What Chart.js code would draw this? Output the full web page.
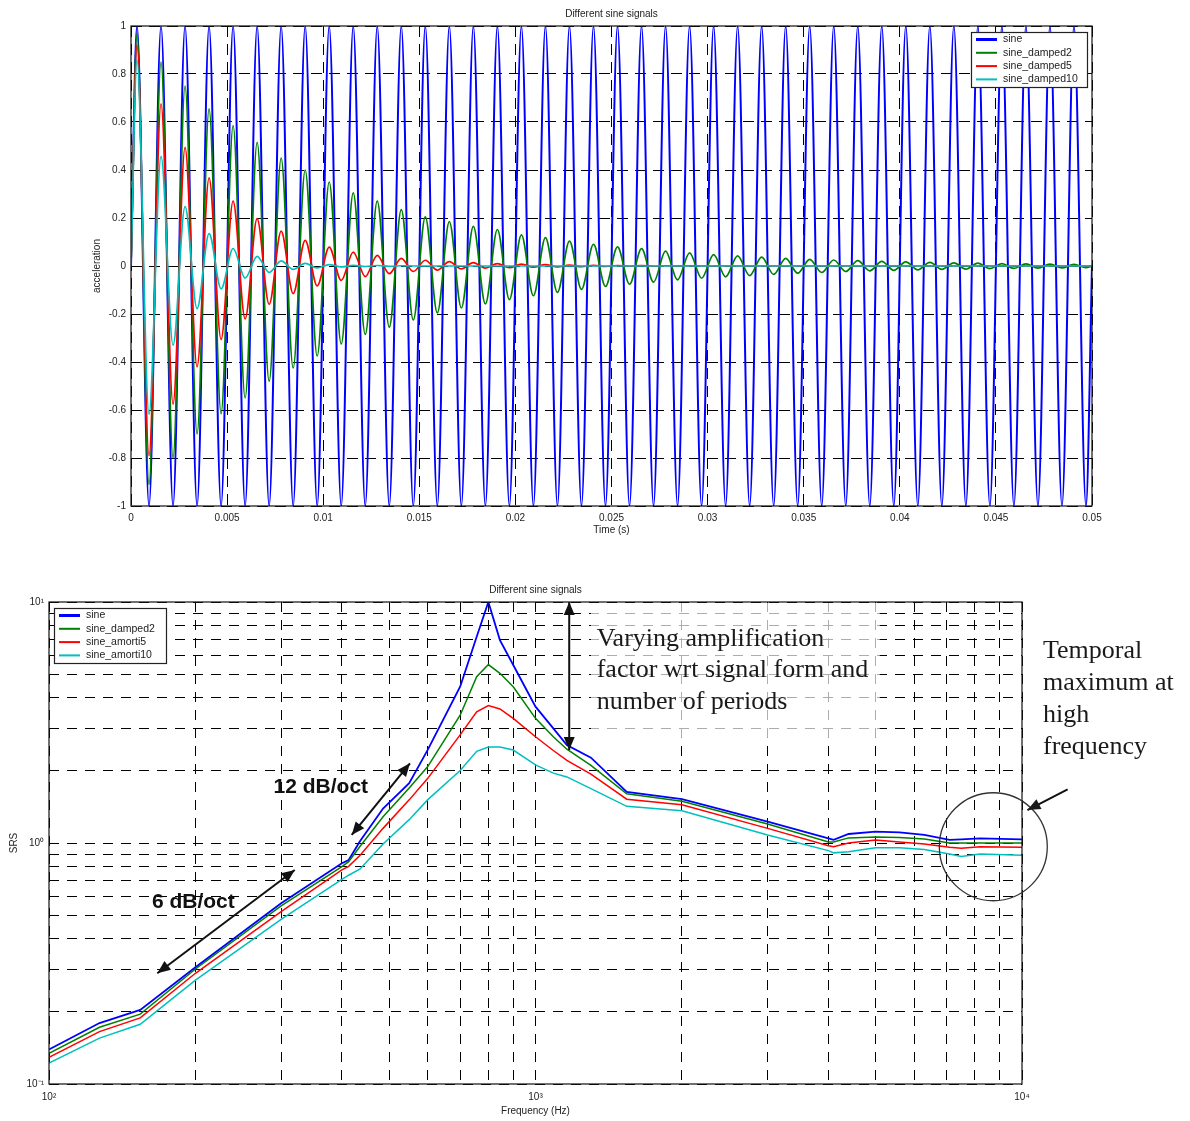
<!DOCTYPE html>
<html>
<head>
<meta charset="utf-8">
<title>Different sine signals</title>
<script src="https://cdn.jsdelivr.net/npm/chart.js@4.4.1/dist/chart.umd.min.js"></script>
<style>
  html, body { margin: 0; padding: 0; background: #fff; }
  body { width: 1190px; height: 1121px; position: relative; overflow: hidden; }
  canvas { position: absolute; left: 0; }
  #chart-time { top: 0; }
  #chart-srs  { top: 560px; }
</style>
</head>
<body>
<canvas id="chart-time" width="1190" height="545"></canvas>
<canvas id="chart-srs" width="1190" height="561"></canvas>
<script>
/* ════════════════════════════════════════════════════════════════════
   Time signals — extrema (800 Hz, 40 periods)
════════════════════════════════════════════════════════════════════ */
const SINE_PERIOD = 0.00125;   // s, spacing of the blue peaks
const timeLabels = ['sine', 'sine_damped2', 'sine_damped5', 'sine_damped10'];

const sinePeaks = [
  1, 1, 1, 1, 1, 1, 1, 1, 1, 1,
  1, 1, 1, 1, 1, 1, 1, 1, 1, 1,
  1, 1, 1, 1, 1, 1, 1, 1, 1, 1,
  1, 1, 1, 1, 1, 1, 1, 1, 1, 1];
const sineTroughs = [
  -1, -1, -1, -1, -1, -1, -1, -1, -1, -1,
  -1, -1, -1, -1, -1, -1, -1, -1, -1, -1,
  -1, -1, -1, -1, -1, -1, -1, -1, -1, -1,
  -1, -1, -1, -1, -1, -1, -1, -1, -1, -1];

const damped2Peaks = [
  0.97, 0.85, 0.75, 0.655, 0.585, 0.515, 0.45, 0.40, 0.35, 0.305,
  0.27, 0.235, 0.205, 0.185, 0.165, 0.152, 0.13, 0.118, 0.104, 0.09,
  0.08, 0.072, 0.062, 0.055, 0.047, 0.042, 0.037, 0.032, 0.028, 0.025,
  0.022, 0.019, 0.017, 0.015, 0.013, 0.012, 0.010, 0.009, 0.008, 0.007];
const damped2Troughs = [
  -0.91, -0.80, -0.70, -0.615, -0.55, -0.48, -0.425, -0.375, -0.325, -0.285,
  -0.255, -0.225, -0.195, -0.175, -0.158, -0.14, -0.124, -0.11, -0.097, -0.085,
  -0.076, -0.067, -0.058, -0.051, -0.045, -0.04, -0.035, -0.03, -0.027, -0.023,
  -0.02, -0.018, -0.016, -0.014, -0.013, -0.011, -0.01, -0.009, -0.008, -0.007];

const damped5Peaks = [
  0.92, 0.676, 0.494, 0.367, 0.27, 0.197, 0.145, 0.107, 0.079, 0.058,
  0.044, 0.032, 0.024, 0.018, 0.014, 0.01, 0.008, 0.006, 0.004, 0.003,
  0.002, 0.002, 0.001, 0.001, 0, 0, 0, 0, 0, 0,
  0, 0, 0, 0, 0, 0, 0, 0, 0, 0];
const damped5Troughs = [
  -0.79, -0.576, -0.42, -0.306, -0.22, -0.16, -0.115, -0.083, -0.06, -0.044,
  -0.032, -0.023, -0.017, -0.012, -0.009, -0.007, -0.005, -0.004, -0.003, -0.002,
  -0.001, -0.001, 0, 0, 0, 0, 0, 0, 0, 0,
  0, 0, 0, 0, 0, 0, 0, 0, 0, 0];

const damped10Peaks = [
  0.86, 0.457, 0.247, 0.135, 0.073, 0.04, 0.021, 0.011, 0.006, 0.003,
  0.002, 0.001, 0, 0, 0, 0, 0, 0, 0, 0,
  0, 0, 0, 0, 0, 0, 0, 0, 0, 0,
  0, 0, 0, 0, 0, 0, 0, 0, 0, 0];
const damped10Troughs = [
  -0.618, -0.33, -0.178, -0.095, -0.05, -0.027, -0.014, -0.008, -0.004, -0.002,
  -0.001, 0, 0, 0, 0, 0, 0, 0, 0, 0,
  0, 0, 0, 0, 0, 0, 0, 0, 0, 0,
  0, 0, 0, 0, 0, 0, 0, 0, 0, 0];

/* ════════════════════════════════════════════════════════════════════
════════════════════════════════════════════════════════════════════ */
const srsLabels = ['sine', 'sine_damped2', 'sine_amorti5', 'sine_amorti10'];
const srsFreq = [100, 127, 154, 200, 300, 400, 413, 436, 486, 550, 600, 700, 757, 800, 845, 900,
                 1000, 1088, 1160, 1300, 1540, 2000, 3000, 4000, 4100, 4400, 5000, 5600, 6300,
                 7100, 7500, 8200, 10000];
const srsSine = [0.139, 0.179, 0.203, 0.305, 0.562, 0.824, 0.85, 1.02, 1.39, 1.77, 2.43, 4.45, 7.18, 10.0,
                 6.95, 5.48, 3.68, 2.99, 2.55, 2.26, 1.63, 1.52, 1.226, 1.046, 1.03, 1.09, 1.114, 1.107,
                 1.08, 1.03, 1.035, 1.045, 1.035];
const srsDamped2 = [0.134, 0.172, 0.195, 0.30, 0.548, 0.798, 0.837, 0.97, 1.285, 1.69, 2.07, 3.39, 4.9, 5.5,
                    5.06, 4.45, 3.29, 2.76, 2.45, 2.1, 1.6, 1.49, 1.2, 1.01, 1.01, 1.05, 1.06, 1.055,
                    1.04, 1.0, 1.0, 1.0, 1.0];
const srsAmorti5 = [0.129, 0.165, 0.188, 0.288, 0.519, 0.773, 0.80, 0.89, 1.15, 1.51, 1.85, 2.81, 3.5, 3.72,
                    3.6, 3.29, 2.76, 2.42, 2.2, 1.93, 1.52, 1.44, 1.15, 0.975, 0.965, 1.0, 1.03, 1.01,
                    0.99, 0.96, 0.95, 0.965, 0.96];
const srsAmorti10 = [0.122, 0.155, 0.177, 0.27, 0.482, 0.707, 0.735, 0.78, 0.99, 1.25, 1.51, 2.0, 2.4, 2.5,
                     2.5, 2.43, 2.11, 1.95, 1.88, 1.68, 1.42, 1.36, 1.08, 0.93, 0.91, 0.92, 0.955, 0.955,
                     0.94, 0.90, 0.88, 0.90, 0.89];

const srsFreqTicks = [100, 200, 300, 400, 500, 600, 700, 800, 900,
                      1000, 2000, 3000, 4000, 5000, 6000, 7000, 8000, 9000, 10000];
const srsValueTicks = [0.1, 0.2, 0.3, 0.4, 0.5, 0.6, 0.7, 0.8, 0.9,
                       1, 2, 3, 4, 5, 6, 7, 8, 9, 10];
const srsFreqDecades = { 100: '10²', 1000: '10³', 10000: '10⁴' };
const srsValueDecades = { 0.1: '10⁻¹', 1: '10⁰', 10: '10¹' };

/* ── palette (Matlab line colours) ── */
const COLORS = ['#0000ff', '#008000', '#ff0000', '#00bfbf'];
const SANS = '"Liberation Sans", Arial, sans-serif';
const SERIF = '"Liberation Serif", "Times New Roman", serif';

// join peaks and troughs into one curve, extrema at quarter periods
function toWave(peaks, troughs) {
  const pts = [{ x: 0, y: 0 }];
  peaks.forEach((p, i) => {
    pts.push({ x: (i + 0.25) * SINE_PERIOD, y: p });
    pts.push({ x: (i + 0.75) * SINE_PERIOD, y: troughs[i] });
  });
  pts.push({ x: peaks.length * SINE_PERIOD, y: 0 });
  return pts;
}

function drawLegend(ctx, x, y, w, h, labels, widths) {
  ctx.save();
  ctx.fillStyle = '#fff';
  ctx.fillRect(x, y, w, h);
  ctx.strokeStyle = '#222';
  ctx.lineWidth = 1.2;
  ctx.strokeRect(x + 0.5, y + 0.5, w, h);
  ctx.font = `10.5px ${SANS}`;
  ctx.textBaseline = 'middle';
  labels.forEach((lbl, i) => {
    const cy = y + 7.5 + i * 13.3;
    ctx.strokeStyle = COLORS[i];
    ctx.lineWidth = widths[i];
    ctx.beginPath();
    ctx.moveTo(x + 5, cy);
    ctx.lineTo(x + 26, cy);
    ctx.stroke();
    ctx.fillStyle = '#222';
    ctx.fillText(lbl, x + 32, cy);
  });
  ctx.restore();
}

function drawFrame(ctx, ca) {
  ctx.save();
  ctx.strokeStyle = '#111';
  ctx.lineWidth = 1.2;
  ctx.strokeRect(ca.left, ca.top, ca.right - ca.left, ca.bottom - ca.top);
  ctx.restore();
}

function axisTexts(ctx, ca, title, xTitle, yTitle, xOff, yOff) {
  ctx.save();
  ctx.fillStyle = '#222';
  ctx.font = `10px ${SANS}`;
  ctx.textAlign = 'center';
  ctx.textBaseline = 'middle';
  const cx = (ca.left + ca.right) / 2;
  ctx.fillText(title, cx, ca.top - 12);
  ctx.fillText(xTitle, cx, ca.bottom + xOff);
  ctx.translate(ca.left - yOff, (ca.top + ca.bottom) / 2);
  ctx.rotate(-Math.PI / 2);
  ctx.fillText(yTitle, 0, 0);
  ctx.restore();
}

function arrow(ctx, x1, y1, x2, y2, both) {
  const head = (xa, ya, xb, yb) => {
    const a = Math.atan2(yb - ya, xb - xa);
    const len = 13, half = 5.5;
    ctx.beginPath();
    ctx.moveTo(xb, yb);
    ctx.lineTo(xb - len * Math.cos(a) + half * Math.sin(a), yb - len * Math.sin(a) - half * Math.cos(a));
    ctx.lineTo(xb - len * Math.cos(a) - half * Math.sin(a), yb - len * Math.sin(a) + half * Math.cos(a));
    ctx.closePath();
    ctx.fill();
  };
  ctx.beginPath();
  ctx.moveTo(x1, y1);
  ctx.lineTo(x2, y2);
  ctx.stroke();
  head(x1, y1, x2, y2);
  if (both) head(x2, y2, x1, y1);
}

/* ═══════════════════════════════════════
   1. TIME SIGNALS
═══════════════════════════════════════ */
const timeFrame = {
  id: 'timeFrame',
  afterDatasetsDraw(chart) {
    const { ctx, chartArea: ca } = chart;
    drawFrame(ctx, ca);
    axisTexts(ctx, ca, 'Different sine signals', 'Time (s)', 'acceleration', 24, 34);
    drawLegend(ctx, ca.right - 121, ca.top + 6, 116, 55, timeLabels, [3, 2, 2, 2]);
  }
};

const peakSets = [
  [sinePeaks, sineTroughs], [damped2Peaks, damped2Troughs],
  [damped5Peaks, damped5Troughs], [damped10Peaks, damped10Troughs]
];

new Chart(document.getElementById('chart-time'), {
  type: 'line',
  data: {
    datasets: peakSets.map(([p, t], i) => ({
      label: timeLabels[i],
      data: toWave(p, t),
      borderColor: COLORS[i],
      borderWidth: i === 0 ? 2 : 1.7,
      pointRadius: 0,
      fill: false,
      cubicInterpolationMode: 'monotone',
      order: 4 - i,
    }))
  },
  options: {
    responsive: false, animation: false, devicePixelRatio: 1,
    layout: { padding: { left: 88, right: 98, top: 26, bottom: 14 } },
    plugins: { legend: { display: false }, tooltip: { enabled: false } },
    scales: {
      x: {
        type: 'linear', min: 0, max: 0.05,
        grid: { color: '#000', lineWidth: 1, drawTicks: false },
        border: { display: false, dash: [11, 7] },
        ticks: {
          stepSize: 0.005, padding: 6, maxRotation: 0, autoSkip: false,
          color: '#222', font: { family: SANS, size: 10 },
          callback: v => String(+v.toFixed(3))
        },
        afterFit: s => { s.height = 25; s.paddingLeft = 0; s.paddingRight = 0; }
      },
      y: {
        min: -1, max: 1,
        grid: { color: '#000', lineWidth: 1, drawTicks: false },
        border: { display: false, dash: [11, 7] },
        ticks: {
          stepSize: 0.2, padding: 5,
          color: '#222', font: { family: SANS, size: 10 },
          callback: v => String(+v.toFixed(1))
        },
        afterFit: s => { s.width = 43; s.paddingTop = 0; s.paddingBottom = 0; }
      }
    }
  },
  plugins: [timeFrame]
});

/* ═══════════════════════════════════════
   2. SRS (log-log)
═══════════════════════════════════════ */
const srsNotes = {
  id: 'srsNotes',
  beforeDatasetsDraw(chart) {
    const { ctx, chartArea: ca, scales: { x, y } } = chart;
    // pale box behind the upper-right annotation
    ctx.save();
    ctx.fillStyle = 'rgba(255,255,255,0.68)';
    const bx = x.getPixelForValue(1300), by = y.getPixelForValue(2.73);
    ctx.fillRect(bx, ca.top + 1, x.getPixelForValue(5100) - bx, by - ca.top - 1);
    ctx.restore();
  },
  afterDatasetsDraw(chart) {
    const { ctx, chartArea: ca, scales: { x, y } } = chart;
    drawFrame(ctx, ca);
    axisTexts(ctx, ca, 'Different sine signals', 'Frequency (Hz)', 'SRS', 27, 35);
    drawLegend(ctx, ca.left + 5, ca.top + 6, 112, 55, srsLabels, [3, 2, 2, 2]);

    const px = (f, v) => [x.getPixelForValue(f), y.getPixelForValue(v)];
    ctx.save();
    ctx.strokeStyle = '#111';
    ctx.fillStyle = '#111';
    ctx.lineWidth = 2;

    // slope arrows
    arrow(ctx, ...px(419, 1.08), ...px(552, 2.14), true);
    arrow(ctx, ...px(167, 0.288), ...px(320, 0.773), true);
    // amplification arrow
    arrow(ctx, ...px(1173, 10), ...px(1173, 2.43), true);

    ctx.font = `bold 21px ${SANS}`;
    ctx.textAlign = 'center';
    ctx.textBaseline = 'middle';
    ctx.fillText('12 dB/oct', ...px(362, 1.71));
    ctx.fillText('6 dB/oct', ...px(198, 0.569));

    // serif annotations
    ctx.font = `26px ${SERIF}`;
    ctx.fillStyle = '#1a1a1a';
    ctx.textAlign = 'left';
    const [vx, vy] = px(1336, 7.02);
    ['Varying amplification', 'factor wrt signal form and', 'number of periods']
      .forEach((t, i) => ctx.fillText(t, vx, vy + i * 31.5));
    ['Temporal', 'maximum at', 'high', 'frequency']
      .forEach((t, i) => ctx.fillText(t, ca.right + 21, ca.top + 49 + i * 32));

    // circle round the high-frequency end + its arrow
    ctx.lineWidth = 1.3;
    ctx.strokeStyle = '#333';
    const [cx, cy] = px(8730, 0.965);
    ctx.beginPath();
    ctx.arc(cx, cy, 54, 0, Math.PI * 2);
    ctx.stroke();
    ctx.lineWidth = 2;
    ctx.strokeStyle = '#111';
    arrow(ctx, ...px(12410, 1.67), ...px(10260, 1.37), false);
    ctx.restore();
  }
};

const srsSeries = [srsSine, srsDamped2, srsAmorti5, srsAmorti10];

new Chart(document.getElementById('chart-srs'), {
  type: 'line',
  data: {
    datasets: srsSeries.map((vals, i) => ({
      label: srsLabels[i],
      data: srsFreq.map((f, k) => ({ x: f, y: vals[k] })),
      borderColor: COLORS[i],
      borderWidth: i === 0 ? 1.8 : 1.5,
      pointRadius: 0,
      fill: false,
      tension: 0,
      order: 4 - i,
    }))
  },
  options: {
    responsive: false, animation: false, devicePixelRatio: 1,
    layout: { padding: { left: 4, right: 168, top: 42, bottom: 12 } },
    plugins: { legend: { display: false }, tooltip: { enabled: false } },
    scales: {
      x: {
        type: 'logarithmic', min: 100, max: 10000,
        grid: { color: '#000', lineWidth: 1, drawTicks: false },
        border: { display: false, dash: [10, 8] },
        afterBuildTicks: s => { s.ticks = srsFreqTicks.map(v => ({ value: v })); },
        ticks: {
          autoSkip: false, padding: 7, maxRotation: 0,
          color: '#222', font: { family: SANS, size: 10 },
          callback: v => srsFreqDecades[v] || ''
        },
        afterFit: s => { s.height = 25; s.paddingLeft = 0; s.paddingRight = 0; }
      },
      y: {
        type: 'logarithmic', min: 0.1, max: 10,
        grid: { color: '#000', lineWidth: 1, drawTicks: false },
        border: { display: false, dash: [10, 8] },
        afterBuildTicks: s => { s.ticks = srsValueTicks.map(v => ({ value: v })); },
        ticks: {
          autoSkip: false, padding: 5,
          color: '#222', font: { family: SANS, size: 10 },
          callback: v => srsValueDecades[v] || ''
        },
        afterFit: s => { s.width = 45; s.paddingTop = 0; s.paddingBottom = 0; }
      }
    }
  },
  plugins: [srsNotes]
});
</script>
</body>
</html>
